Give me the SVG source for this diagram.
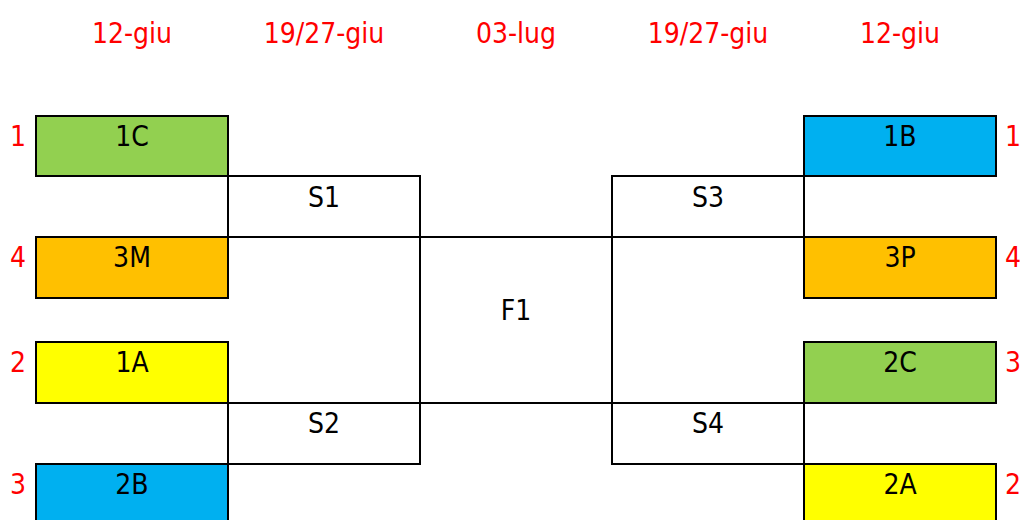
<svg xmlns="http://www.w3.org/2000/svg" width="1024" height="520" viewBox="0 0 1024 520">
<style>
  .box { stroke: #000; stroke-width: 2; }
  .cell { fill: none; stroke: #000; stroke-width: 2; }
  text { font-family: "DejaVu Sans Condensed", "DejaVu Sans", sans-serif; font-stretch: condensed; font-size: 28px; text-anchor: middle; }
  .lbl { fill: #000; }
  .red { fill: #FF0000; }
  .green { fill: #92D050; }
  .orange { fill: #FFC000; }
  .yellow { fill: #FFFF00; }
  .blue { fill: #00B0F0; }
</style>
<rect x="0" y="0" width="1024" height="520" fill="#fff"/>
<g id="headers">
  <text class="red" x="132" y="43">12-giu</text>
  <text class="red" x="324" y="43">19/27-giu</text>
  <text class="red" x="516" y="43">03-lug</text>
  <text class="red" x="708" y="43">19/27-giu</text>
  <text class="red" x="900" y="43">12-giu</text>
</g>
<g id="connectors">
  <rect id="S1" class="cell" x="228" y="176" width="192" height="61"/>
  <rect id="S2" class="cell" x="228" y="403" width="192" height="61"/>
  <rect id="F1" class="cell" x="420" y="237" width="192" height="166"/>
  <rect id="S3" class="cell" x="612" y="176" width="192" height="61"/>
  <rect id="S4" class="cell" x="612" y="403" width="192" height="61"/>
</g>
<g id="match-labels">
  <text class="lbl" x="324" y="207">S1</text>
  <text class="lbl" x="324" y="433">S2</text>
  <text class="lbl" x="516" y="320">F1</text>
  <text class="lbl" x="708" y="207">S3</text>
  <text class="lbl" x="708" y="433">S4</text>
</g>
<g id="team-1C">
  <rect class="box green" x="36" y="116" width="192" height="60"/>
  <text class="lbl" x="132" y="146">1C</text>
  <text class="red" x="18" y="146">1</text>
</g>
<g id="team-3M">
  <rect class="box orange" x="36" y="237" width="192" height="61"/>
  <text class="lbl" x="132" y="267">3M</text>
  <text class="red" x="18" y="267">4</text>
</g>
<g id="team-1A">
  <rect class="box yellow" x="36" y="342" width="192" height="61"/>
  <text class="lbl" x="132" y="372">1A</text>
  <text class="red" x="18" y="372">2</text>
</g>
<g id="team-2B">
  <rect class="box blue" x="36" y="464" width="192" height="61"/>
  <text class="lbl" x="132" y="494">2B</text>
  <text class="red" x="18" y="494">3</text>
</g>
<g id="team-1B">
  <rect class="box blue" x="804" y="116" width="192" height="60"/>
  <text class="lbl" x="900" y="146">1B</text>
  <text class="red" x="1013" y="146">1</text>
</g>
<g id="team-3P">
  <rect class="box orange" x="804" y="237" width="192" height="61"/>
  <text class="lbl" x="900" y="267">3P</text>
  <text class="red" x="1013" y="267">4</text>
</g>
<g id="team-2C">
  <rect class="box green" x="804" y="342" width="192" height="61"/>
  <text class="lbl" x="900" y="372">2C</text>
  <text class="red" x="1013" y="372">3</text>
</g>
<g id="team-2A">
  <rect class="box yellow" x="804" y="464" width="192" height="61"/>
  <text class="lbl" x="900" y="494">2A</text>
  <text class="red" x="1013" y="494">2</text>
</g>
</svg>
